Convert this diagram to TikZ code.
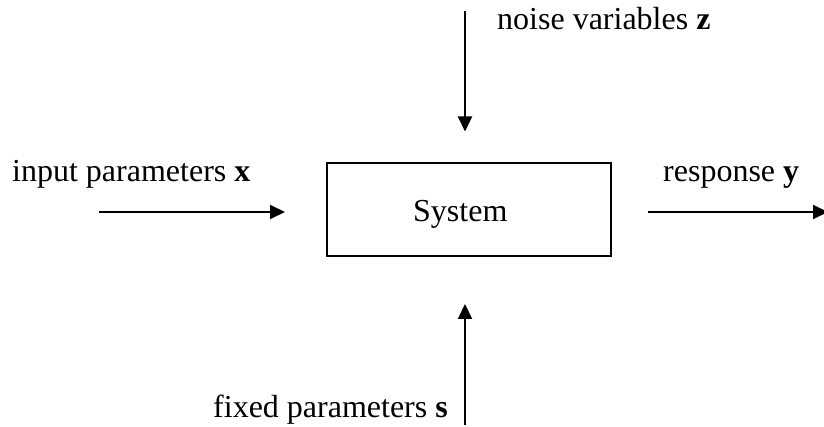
\documentclass[tikz,border=0pt]{standalone}
\usepackage{fontspec}
\setmainfont{Liberation Serif}
\usetikzlibrary{arrows.meta}
\begin{document}
\begin{tikzpicture}[x=1pt,y=-1pt,
  lbl/.style={inner sep=0pt,anchor=base west,font=\fontsize{32}{38}\selectfont},
  sysbox/.style={draw,line width=2pt,minimum width=284pt,minimum height=93pt,inner sep=0pt},
  arr/.style={line width=2pt,-{Triangle[length=15pt,width=14pt]}}]
\useasboundingbox (0,0) rectangle (824,427);
\node[sysbox] (sys) at (468.5,210) {};
\node[lbl] (systxt) at (413,222) {System};
\node[lbl] (noise) at (497,30) {noise variables \textbf{z}};
\node[lbl] (input) at (12,182) {input parameters \textbf{x}};
\node[lbl] (resp) at (663,182) {response \textbf{y}};
\node[lbl] (fixed) at (213,417) {fixed parameters \textbf{s}};
\coordinate (zs) at (465,11);
\coordinate (ze) at (465,131.5);
\coordinate (xs) at (99,212);
\coordinate (xe) at (285,212);
\coordinate (ys) at (648,212);
\coordinate (ye) at (828,212);
\coordinate (ss) at (465,425);
\coordinate (se) at (465,304);
\draw[arr] (zs) -- (ze);
\draw[arr] (xs) -- (xe);
\draw[arr] (ys) -- (ye);
\draw[arr] (ss) -- (se);
\end{tikzpicture}
\end{document}
